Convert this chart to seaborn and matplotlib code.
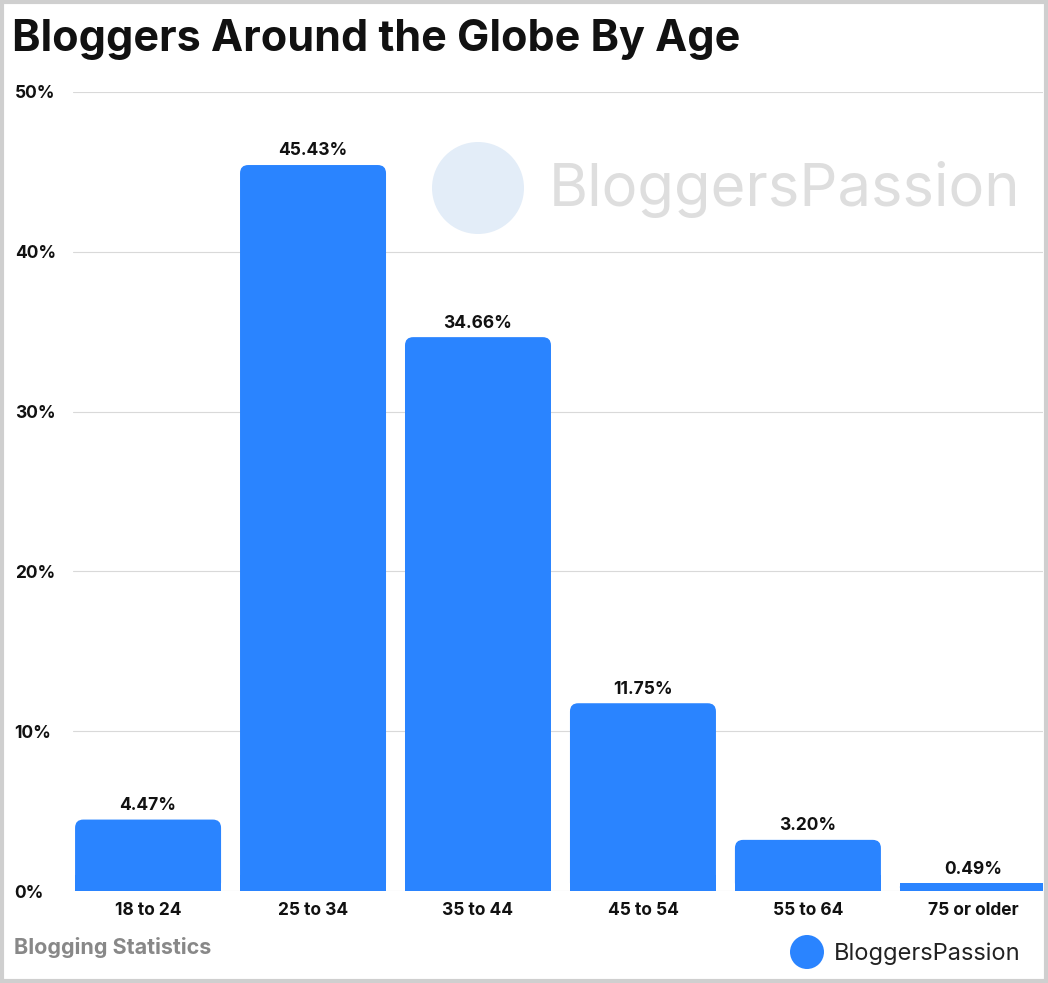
import matplotlib
matplotlib.use("Agg")
import matplotlib.pyplot as plt
import seaborn as sns
from matplotlib.patches import FancyBboxPatch, Rectangle, Circle

categories = ["18 to 24", "25 to 34", "35 to 44", "45 to 54", "55 to 64", "75 or older"]
values = [4.47, 45.43, 34.66, 11.75, 3.20, 0.49]
yticks = [0, 10, 20, 30, 40, 50]

sns.set_theme(style="white")
plt.rcParams['font.family'] = ['Inter', 'DejaVu Sans']

fig = plt.figure(figsize=(10.48, 9.83), dpi=100)
ax = fig.add_axes([73/1048, 1-891/983, 970/1048, 799/983])
sns.barplot(x=categories, y=values, color="#2A84FF", saturation=1, width=0.885, ax=ax, zorder=3)
ax.set_xlim(-0.455, 5.425)
ax.set_ylim(0, 50)
ratio = (50/799)/(5.88/970)
for p in list(ax.patches):
    x, y, w, h = p.get_x(), p.get_y(), p.get_width(), p.get_height()
    p.remove()
    r = min(0.05, h/ratio/2)
    ax.add_patch(FancyBboxPatch((x, y), w, h, boxstyle=f"round,pad=0,rounding_size={r}",
                                mutation_aspect=ratio, fc="#2A84FF", ec="none", zorder=3))
    ax.add_patch(Rectangle((x, 0), w, min(h, 1), fc="#2A84FF", ec="none", zorder=3))
for i, v in enumerate(values):
    ax.text(i, v + 0.35, f"{v:.2f}%", ha="center", va="bottom", fontsize=12.5, fontweight="bold", color="#111")
ax.set_yticks(yticks)
ax.set_yticklabels([f"{t}%" for t in yticks], fontsize=12.5, fontweight="bold", color="#111", ha="left")
ax.tick_params(axis="y", pad=42, length=0)
ax.tick_params(axis="x", pad=8, length=0, labelsize=12.5)
for l in ax.get_xticklabels():
    l.set_fontweight("bold"); l.set_color("#111")
ax.grid(axis="y", color="#d9d9d9", lw=0.8, zorder=0)
for s in ax.spines.values():
    s.set_visible(False)

def circ(cx, cy, r, **kw):
    fig.patches.append(Circle((cx/100, (983-cy)/100), r/100, transform=fig.dpi_scale_trans, **kw))

fig.text(12/1048, 1-40/983, "Bloggers Around the Globe By Age", fontsize=31, fontweight="bold", color="#111", va="center")
fig.text(14/1048, 1-948/983, "Blogging Statistics", fontsize=15.5, fontweight="bold", color="#888", va="center")
fig.text(1020/1048, 1-954/983, "BloggersPassion", fontsize=17, color="#222", va="center", ha="right")
circ(807, 952, 17, fc="#2A84FF", ec="none")
fig.text(1020/1048, 1-190/983, "BloggersPassion", fontsize=43, color="#dedede", va="center", ha="right", zorder=1)
circ(478, 188, 46, fc="#e3edf8", ec="none", zorder=0)
fig.patches.append(Rectangle((0.002, 0.002), 0.996, 0.996, transform=fig.transFigure, fill=False, ec="#cfcfcf", lw=3))
fig.savefig("out.png", dpi=100)
